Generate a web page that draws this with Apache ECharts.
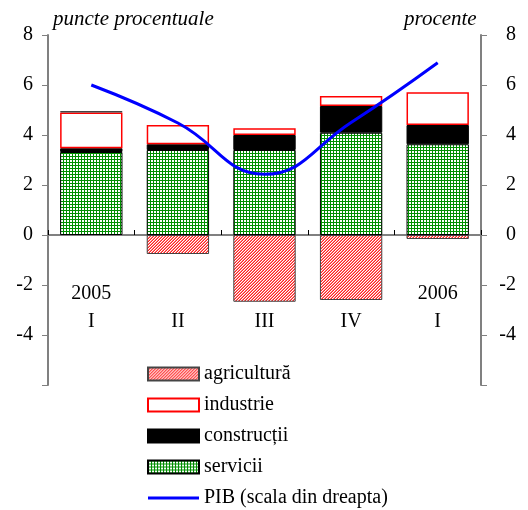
<!DOCTYPE html>
<html>
<head>
<meta charset="utf-8">
<script src="https://cdn.jsdelivr.net/npm/echarts@6/dist/echarts.min.js"></script>
<style>html,body{margin:0;padding:0;background:#fff;}#c{width:528px;height:510px;}</style>
</head>
<body>
<div id="c"></div>
<script>
var years = ['2005', '', '', '', '2006'];
var quarters = ['I', 'II', 'III', 'IV', 'I'];
var servicii = [3.32, 3.40, 3.40, 4.09, 3.63];
var constructii = [0.15, 0.23, 0.60, 1.07, 0.77];
var industrie = [1.43, 0.77, 0.27, 0.40, 1.31];
var agricultura = [0.06, -0.76, -2.67, -2.60, -0.16];
var pib = [6.0, 4.48, 2.43, 4.5, 6.89];
var yTickLabels = ['', '-4', '-2', '0', '2', '4', '6', '8'];
var yTickValues = [-6, -4, -2, 0, 2, 4, 6, 8];

var categories = years.map(function (y, i) { return y + '\n' + quarters[i]; });

function makePattern(size, draw) {
  var c = document.createElement('canvas');
  c.width = size; c.height = size;
  var ctx = c.getContext('2d');
  ctx.fillStyle = '#ffffff';
  ctx.fillRect(0, 0, size, size);
  draw(ctx);
  return { image: c, repeat: 'repeat' };
}
var gridPattern = makePattern(3, function (ctx) {
  ctx.fillStyle = '#008f00';
  ctx.fillRect(0, 0, 3, 1);
  ctx.fillRect(0, 0, 1, 3);
});
var hatchPattern = makePattern(3, function (ctx) {
  ctx.fillStyle = '#ff8080';
  ctx.fillRect(0, 0, 3, 3);
  ctx.fillStyle = '#ff2020';
  for (var i = 0; i < 3; i++) {
    ctx.fillRect(i, 2 - i, 1, 1);
  }
  ctx.fillStyle = '#ffffff';
  for (var j = 0; j < 3; j++) {
    ctx.fillRect(j, (3 - j) % 3, 1, 1);
  }
});

var font = 'Liberation Serif';
function yLabel(v) {
  var idx = yTickValues.indexOf(v);
  return idx >= 0 ? yTickLabels[idx] : '';
}

var chart = echarts.init(document.getElementById('c'), null, { renderer: 'canvas' });
chart.setOption({
  animation: false,
  backgroundColor: '#ffffff',
  title: [
    { text: 'puncte procentuale', left: 53, top: 9, padding: 0,
      textStyle: { fontFamily: font, fontStyle: 'italic', fontWeight: 'normal', fontSize: 21, color: '#000' } },
    { text: 'procente', left: 404, top: 9, padding: 0,
      textStyle: { fontFamily: font, fontStyle: 'italic', fontWeight: 'normal', fontSize: 21, color: '#000' } }
  ],
  grid: { left: 48, right: 47, top: 35, bottom: 125, containLabel: false },
  legend: {
    orient: 'vertical', left: 147, top: 364, padding: 0,
    itemWidth: 51, itemHeight: 13, itemGap: 11, icon: 'rect',
    textStyle: { fontFamily: font, fontSize: 20, color: '#000', lineHeight: 20 },
    data: ['agricultură', 'industrie', 'construcții', 'servicii',
      { name: 'PIB (scala din dreapta)', icon: 'path://M0,0M0,13M0,5L51,5L51,8L0,8Z' }]
  },
  xAxis: {
    type: 'category', data: categories,
    axisLine: { onZero: true, lineStyle: { color: '#808080', width: 2 } },
    axisTick: { show: true, inside: true, length: 5, lineStyle: { color: '#000', width: 1 } },
    axisLabel: { interval: 0, margin: -105, fontFamily: font, fontSize: 20, lineHeight: 28, color: '#000' },
    splitLine: { show: false }
  },
  yAxis: [
    { type: 'value', min: -6, max: 8, interval: 2, position: 'left',
      axisLine: { show: true, onZero: false, lineStyle: { color: '#808080', width: 2 } },
      axisTick: { show: true, length: 6, lineStyle: { color: '#808080', width: 1 } },
      axisLabel: { formatter: yLabel, margin: 15, fontFamily: font, fontSize: 20, color: '#000' },
      splitLine: { show: false } },
    { type: 'value', min: -6, max: 8, interval: 2, position: 'right',
      axisLine: { show: true, onZero: false, lineStyle: { color: '#808080', width: 2 } },
      axisTick: { show: true, length: 6, lineStyle: { color: '#808080', width: 1 } },
      axisLabel: { formatter: yLabel, margin: 35, align: 'right', fontFamily: font, fontSize: 20, color: '#000' },
      splitLine: { show: false } }
  ],
  series: [
    { name: 'servicii', type: 'bar', stack: 'a', data: servicii, barWidth: '72%',
      itemStyle: { color: gridPattern, borderColor: '#000', borderWidth: 1 } },
    { name: 'construcții', type: 'bar', stack: 'a', data: constructii,
      itemStyle: { color: '#000', borderColor: '#000', borderWidth: 1 } },
    { name: 'industrie', type: 'bar', stack: 'a', data: industrie,
      itemStyle: { color: '#fff', borderColor: '#ff0000', borderWidth: 1.5 } },
    { name: 'agricultură', type: 'bar', stack: 'a', data: agricultura,
      itemStyle: { color: hatchPattern, borderColor: '#444', borderWidth: 1 } },
    { name: 'PIB (scala din dreapta)', type: 'line', yAxisIndex: 1, data: pib, smooth: 0.45,
      symbol: 'none', z: 5, lineStyle: { color: '#0000ff', width: 3 }, itemStyle: { color: '#0000ff' } }
  ]
});
</script>
</body>
</html>
